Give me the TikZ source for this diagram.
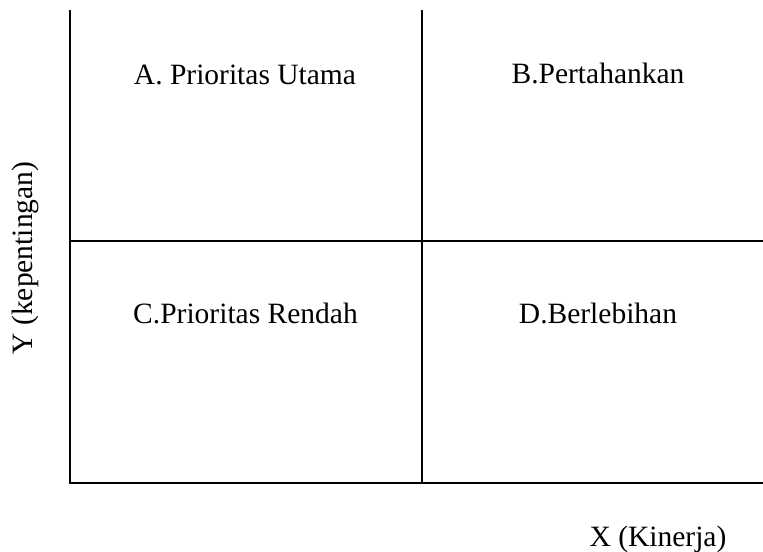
\documentclass[tikz,border=0pt]{standalone}
\usepackage{fontspec}
\setmainfont{Liberation Serif}
\begin{document}
\begin{tikzpicture}[x=1bp,y=-1bp,
  axisline/.style={line width=2.2bp, black},
  label/.style={font=\fontsize{29.5bp}{35bp}\selectfont, inner sep=0pt, anchor=base}]
\useasboundingbox (0,0) rectangle (763,552);
% grid coordinates
\coordinate (tl) at (70,10);
\coordinate (bl) at (70,483);
\coordinate (br) at (763,483);
\coordinate (tm) at (422,10);
\coordinate (bm) at (422,483);
\coordinate (ml) at (70,241);
\coordinate (mr) at (763,241);
\draw[axisline] (tl) -- (bl) -- (br);
\draw[axisline] (tm) -- (bm);
\draw[axisline] (ml) -- (mr);
% quadrant labels
\node[label] (A) at (245,85) {A. Prioritas Utama};
\node[label] (B) at (598,84) {B.Pertahankan};
\node[label] (C) at (245.5,323) {C.Prioritas Rendah};
\node[label] (D) at (598,323) {D.Berlebihan};
% axis labels
\node[label, anchor=center, rotate=90] (Y) at (25,258) {Y (kepentingan)};
\node[label] (X) at (658,546) {X (Kinerja)};
\end{tikzpicture}
\end{document}
